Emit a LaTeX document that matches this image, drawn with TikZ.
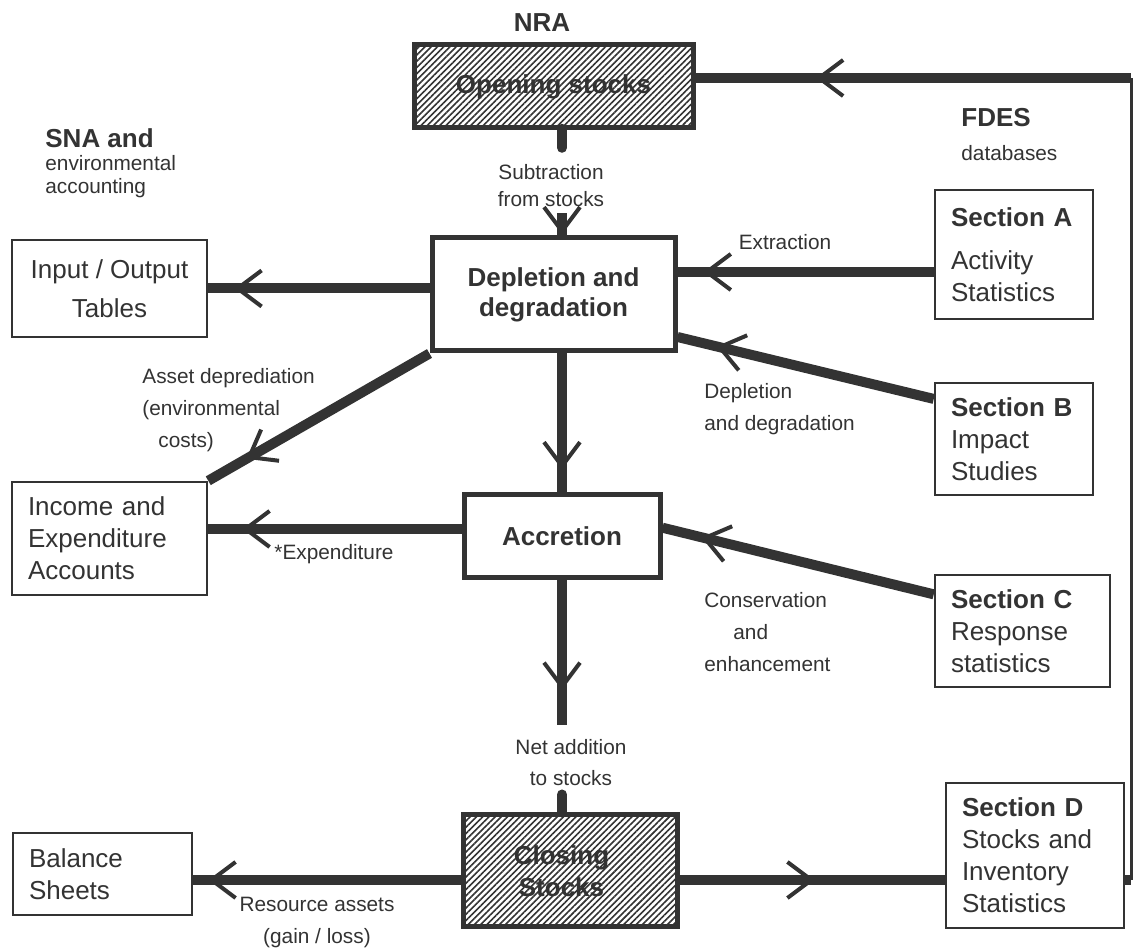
\documentclass[tikz,border=0pt]{standalone}
\usepackage{fontspec}
\setmainfont{Liberation Sans}
\usepackage{tikz}
\usetikzlibrary{arrows.meta,calc,patterns.meta,decorations.markings}
\definecolor{ink}{HTML}{333333}
\newcommand\bigtxt{\fontsize{13}{16}\selectfont}
\newcommand\smalltxt{\fontsize{10.4}{16}\selectfont}

\begin{document}
\begin{tikzpicture}[x=0.5pt,y=-0.5pt,
  flow/.style={draw=ink,line width=5pt},
  thinflow/.style={draw=ink,line width=1.5pt},
  tipback/.style={postaction={decorate},decoration={markings,
    mark=at position -#1 with {\arrow{Straight Barb[length=12pt,width=18pt,line width=2pt]}}}},
  stockbox/.style={draw=ink,line width=2.5pt,inner sep=0pt,align=center,
    pattern={Lines[angle=45,distance=2.2pt,line width=0.8pt]},pattern color=ink,
    font=\bigtxt\bfseries,text=ink},
  mainbox/.style={draw=ink,line width=2.5pt,fill=white,inner sep=0pt,align=center,
    font=\fontsize{13}{15}\selectfont\bfseries,text=ink},
  sidebox/.style={draw=ink,line width=1.25pt,fill=white,inner xsep=8pt,inner ysep=0pt,
    align=left,font=\bigtxt,text=ink},
  hdr/.style={font=\bigtxt\bfseries,text=ink,inner sep=0pt},
  note/.style={font=\smalltxt,text=ink,inner sep=0pt,align=left}]
\useasboundingbox (0,0) rectangle (1137,951);
\fill[white] (0,0) rectangle (1137,951);

% Headings
\node[hdr] (nra) at (542,23) {NRA};
\node[hdr,anchor=west] (sna) at (45,138) {SNA and};
\node[note,anchor=west,font=\fontsize{10.4}{11.5}\selectfont] (snasub) at (45,176.5) {environmental\\accounting};
\node[hdr,anchor=west] (fdes) at (961,118) {FDES};
\node[note,anchor=west] (fdessub) at (961,153) {databases};

% NRA column
\node[stockbox,minimum width=139.5pt,minimum height=41.5pt] (open) at (553.5,86.5) {Opening stocks};
\node[mainbox,minimum width=121.5pt,minimum height=56.5pt] (depl) at (553.5,294.5) {Depletion and\\degradation};
\node[mainbox,minimum width=98pt,minimum height=41.5pt] (accr) at (562,536.5) {Accretion};
\node[stockbox,minimum width=107pt,minimum height=56pt] (clos) at (570.5,871) {Closing\hspace*{9pt}\\Stocks\hspace*{9pt}};

% SNA boxes
\node[sidebox,align=center,minimum width=97.5pt,minimum height=48.5pt] (io) at (109.5,288.5) {Input / Output\\[3.5pt]Tables};
\node[sidebox,text width=81.5pt,minimum height=56.5pt] (inc) at (109.5,538.5) {Income and\\Expenditure\\Accounts};
\node[sidebox,text width=73.5pt,minimum height=41pt] (bal) at (102.5,874) {Balance\\Sheets};

% FDES sections
\node[sidebox,text width=63pt,minimum height=64.5pt] (secA) at (1014,254.5) {\textbf{Section A}\\[5.5pt]Activity\\Statistics};
\node[sidebox,text width=63pt,minimum height=56pt] (secB) at (1014,439) {\textbf{Section B}\\Impact\\Studies};
\node[sidebox,text width=71.5pt,minimum height=56pt] (secC) at (1022.5,631) {\textbf{Section C}\\Response\\statistics};
\node[sidebox,text width=73pt,minimum height=72.5pt] (secD) at (1035,855.5) {\textbf{Section D}\\Stocks and\\Inventory\\Statistics};

% Line rows
\coordinate (spine) at (562,0);
\coordinate (rowT) at (0,78);
\coordinate (rowA) at (0,272);
\coordinate (rowE) at (0,529);
\coordinate (rowS) at (0,880);
\coordinate (fbtop) at (1131,78);
\coordinate (fbbot) at (1131,880);
\coordinate (netend) at (562,725);

% Arrows
\draw[flow,line cap=round] (open.south -| spine) -- ++(0,19);
\draw[flow,tipback=0.5pt] ($(depl.north -| spine)+(0,-22)$) -- (depl.north -| spine);
\draw[flow,tipback=13pt] (depl.west |- io.east) -- (io.east);
\draw[flow,tipback=13pt] (secA.west |- rowA) -- (depl.east |- rowA);
\draw[flow,tipback=20pt] ($(secB.north west)!0.15!(secB.south west)$) -- ($(depl.north east)!0.86!(depl.south east)$);
\draw[flow,tipback=22pt] (depl.south west) -- (inc.north east);
\draw[flow,tipback=11.5pt] (depl.south -| spine) -- (accr.north);
\draw[flow,tipback=20pt] ($(secC.north west)!0.18!(secC.south west)$) -- ($(accr.north east)!0.4!(accr.south east)$);
\draw[flow,tipback=17pt] (accr.west |- rowE) -- (inc.east |- rowE);
\draw[flow,tipback=17.5pt] (accr.south) -- (netend);
\draw[flow,line cap=round] (clos.north -| spine) -- ++(0,-18);
\draw[flow,tipback=7.5pt] (clos.west |- rowS) -- (bal.east |- rowS);
\draw[flow,tipback=65pt] (clos.east |- rowS) -- (secD.west |- rowS);

% Feedback to opening stocks
\draw[flow] (secD.east |- rowS) -- (fbbot);
\draw[thinflow] (fbbot) -- (fbtop);
\draw[flow,tipback=61pt] (fbtop) -- (open.east |- rowT);

% Arrow labels
\node[note,align=center,font=\fontsize{10.4}{13.5}\selectfont] (subl) at (551,186) {Subtraction\\from stocks};
\node[note] (extl) at (785,242) {Extraction};
\node[note,anchor=west] (degl) at (704,409) {Depletion\\and degradation};
\node[note,anchor=west] (assl) at (142,410.5) {Asset deprediation\\(environmental\\\hspace*{8pt}costs)};
\node[note] (expl) at (334,554) {*Expenditure};
\node[note,anchor=west] (conl) at (704,632.5) {Conservation\\\hspace*{14.5pt}and\\enhancement};
\node[note,align=center,font=\fontsize{10.4}{15.5}\selectfont] (netl) at (571,762.5) {Net addition\\to stocks};
\node[note,align=center] (resl) at (317,923) {Resource assets\\(gain / loss)};
\end{tikzpicture}
\end{document}
